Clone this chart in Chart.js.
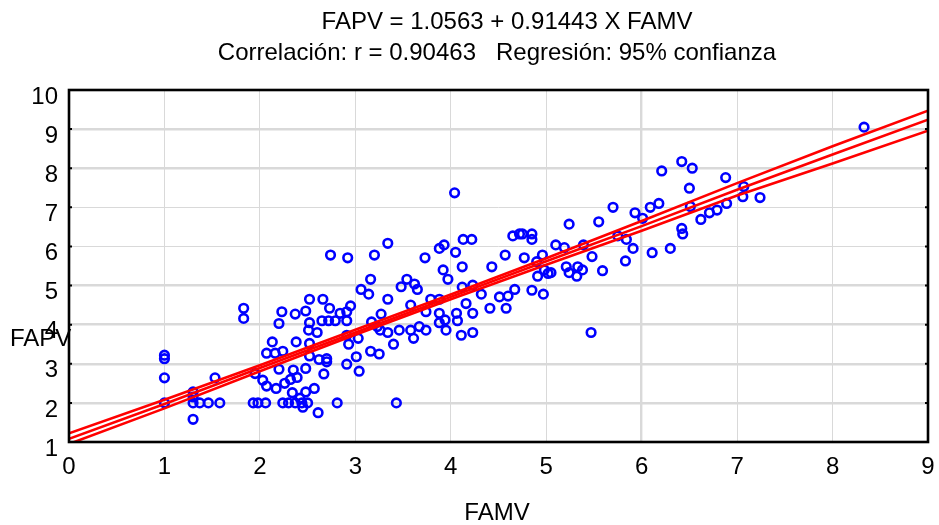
<!DOCTYPE html>
<html><head><meta charset="utf-8">
<script src="https://cdn.jsdelivr.net/npm/chart.js@4.4.0/dist/chart.umd.min.js"></script>
<style>html,body{margin:0;padding:0;background:#fff;}</style>
</head><body>
<canvas id="c" width="939" height="525"></canvas>
<script>
// ---- data ----
const titleLines = ["FAPV = 1.0563 + 0.91443 X FAMV", "Correlación: r = 0.90463   Regresión: 95% confianza"];
const xTitle = "FAMV";
const yTitle = "FAPV";
const xTicks = [0,1,2,3,4,5,6,7,8,9];
const yTicks = [1,2,3,4,5,6,7,8,9,10];

const famv = [1.00,1.00,1.00,1.00,1.30,1.30,1.30,1.37,1.46,1.58,1.30,1.53,1.83,1.83,1.93,1.98,2.06,1.95,2.03,2.07,
2.07,2.16,2.17,2.13,2.20,2.23,2.24,2.26,2.20,2.24,2.30,2.37,2.44,2.50,2.34,2.32,2.39,2.35,2.37,2.38,
2.42,2.45,2.48,2.48,2.48,2.52,2.51,2.52,2.52,2.52,2.57,2.61,2.60,2.62,2.66,2.65,2.72,2.79,2.70,2.70,
2.67,2.73,2.84,2.91,2.95,2.91,2.91,2.93,2.91,3.01,3.03,3.04,3.16,3.25,2.81,3.43,3.40,3.34,3.46,3.58,
3.61,3.67,3.74,3.17,3.27,3.23,3.26,3.34,3.06,3.14,3.16,3.48,3.54,3.62,3.65,3.58,3.74,3.79,3.88,3.88,
3.88,3.94,3.95,4.06,4.07,4.11,4.23,3.92,3.97,4.12,4.23,4.32,4.16,4.23,4.41,4.51,4.60,4.58,4.67,4.85,
4.97,4.91,5.05,5.24,5.32,5.38,5.59,5.47,4.04,2.74,2.92,3.20,3.34,3.73,3.88,3.93,4.05,4.13,4.22,4.12,
4.43,4.57,4.77,4.65,4.72,4.75,4.85,4.85,4.96,4.90,4.98,5.10,5.19,5.24,5.55,5.70,5.39,5.48,5.21,5.33,
5.02,8.33,6.42,6.53,6.21,6.88,6.50,7.07,7.06,7.24,6.89,6.79,6.71,6.62,6.51,5.93,6.09,6.18,6.01,6.42,
6.43,5.75,5.84,5.91,6.30,6.11,5.83];
const fapv = [3.22,3.13,2.64,2.00,2.28,2.15,2.00,2.00,2.00,2.00,1.58,2.64,4.42,4.16,2.00,2.00,2.00,2.75,2.58,2.43,
3.27,3.27,2.37,3.56,4.03,4.33,3.32,2.50,2.86,2.00,2.00,2.00,2.00,2.00,2.26,2.60,2.65,2.84,4.27,3.56,
2.12,1.89,2.28,2.88,4.35,4.65,3.86,4.05,3.52,3.20,2.37,1.75,3.80,3.11,4.65,4.10,4.10,4.10,3.05,3.13,
2.74,4.42,4.29,4.33,4.48,4.10,3.73,3.50,2.99,3.18,3.65,2.81,3.32,3.25,2.00,2.00,3.50,3.80,3.86,3.86,
3.65,3.95,3.86,4.07,4.27,3.95,3.86,4.65,4.90,4.78,5.16,4.97,5.16,5.04,4.90,4.50,4.33,4.65,4.65,4.29,
4.05,4.12,3.86,4.29,4.10,3.73,3.80,5.40,5.16,4.96,5.01,4.78,4.54,4.29,4.42,4.71,4.73,4.42,4.90,4.88,
4.78,5.24,5.33,5.33,5.24,5.40,5.38,3.80,7.37,5.78,5.71,5.78,6.08,5.71,5.95,6.04,5.85,6.18,6.18,5.48,
5.48,5.78,5.71,6.27,6.32,6.32,6.32,6.18,5.78,5.61,5.40,6.04,5.97,6.57,6.63,7.00,6.04,5.74,5.48,5.48,
5.31,9.05,8.17,8.00,7.93,7.76,7.49,7.53,7.27,7.25,7.10,6.93,6.86,6.69,7.02,6.86,7.00,7.10,6.72,6.46,
6.32,6.27,6.18,5.95,5.95,5.84,5.63];

const bandX = [0,1,2,3,4,5,6,7,8,9];
const fitY   = [1.08,1.97,2.89,3.80,4.71,5.62,6.52,7.45,8.35,9.24];
const upperY = [1.22,2.08,2.96,3.87,4.77,5.70,6.65,7.62,8.56,9.47];
const lowerY = [0.95,1.86,2.81,3.74,4.65,5.53,6.40,7.30,8.12,8.96];

// ---- build ----
const pts = famv.map((v,i)=>({x:v, y:fapv[i]}));
const mk = arr => bandX.map((v,i)=>({x:v, y:arr[i]}));
const FONT = '"Liberation Sans", Arial, sans-serif';

const lineDs = (arr) => ({
  data: mk(arr), showLine: true, borderColor: '#ff0000', borderWidth: 2.6,
  pointRadius: 0, fill: false, tension: 0, order: 0
});

const textPlugin = {
  id: 'texts',
  afterDraw(chart) {
    const ctx = chart.ctx, a = chart.chartArea;
    ctx.save();
    ctx.fillStyle = '#000';
    ctx.font = '24px ' + FONT;
    ctx.textAlign = 'center';
    ctx.textBaseline = 'middle';
    ctx.fillText(titleLines[0], 507, 22);
    ctx.fillText(titleLines[1], 497, 53);
    ctx.fillText(xTitle, 497, 513);
    ctx.textAlign = 'left';
    ctx.fillText(yTitle, 10, 339);
    // frame
    ctx.strokeStyle = '#000';
    ctx.lineWidth = 2.6;
    ctx.strokeRect(a.left, a.top, a.right - a.left, a.bottom - a.top);
    // small inner tick marks on left and right axes
    const ys = chart.scales.y;
    ctx.lineWidth = 2;
    yTicks.forEach(v => {
      const p = ys.getPixelForValue(v);
      ctx.beginPath();
      ctx.moveTo(a.left, p); ctx.lineTo(a.left + 3, p);
      ctx.moveTo(a.right, p); ctx.lineTo(a.right - 3, p);
      ctx.stroke();
    });
    ctx.restore();
  }
};

new Chart(document.getElementById('c'), {
  type: 'scatter',
  data: {
    datasets: [
      lineDs(upperY), lineDs(fitY), lineDs(lowerY),
      { data: pts, showLine: false, pointStyle: 'circle', pointRadius: 4.3,
        pointBorderWidth: 2.6, borderColor: '#0000ff', backgroundColor: 'rgba(0,0,0,0)',
        pointBackgroundColor: 'rgba(0,0,0,0)', pointBorderColor: '#0000ff', order: 1 }
    ]
  },
  options: {
    responsive: false,
    animation: false,
    devicePixelRatio: 1,
    layout: { padding: { top: 90, right: 11, left: 0, bottom: 0 } },
    plugins: { legend: { display: false }, tooltip: { enabled: false }, title: { display: false } },
    scales: {
      x: {
        type: 'linear', min: 0, max: 9,
        afterFit: s => { s.height = 83; s.paddingLeft = 0; s.paddingRight = 0; },
        afterBuildTicks: s => { s.ticks = xTicks.map(v => ({ value: v })); },
        border: { display: false },
        grid: {
          color: '#d9d9d9', drawTicks: false,
          lineWidth: c => (c.tick && c.tick.value === 6) ? 2.4 : 1
        },
        ticks: { color: '#000', font: { size: 24, family: FONT }, padding: 11, maxRotation: 0 }
      },
      y: {
        type: 'linear', min: 1, max: 10,
        afterFit: s => { s.width = 69; s.paddingTop = 0; s.paddingBottom = 0; },
        afterBuildTicks: s => { s.ticks = yTicks.map(v => ({ value: v })); },
        border: { display: false },
        grid: {
          color: '#d9d9d9', drawTicks: false,
          lineWidth: c => (c.tick && [2,3,4,5,8,9].includes(c.tick.value)) ? 2.4 : 1
        },
        ticks: { color: '#000', font: { size: 24, family: FONT }, padding: 11, labelOffset: 7 }
      }
    }
  },
  plugins: [textPlugin]
});
</script>
</body></html>
